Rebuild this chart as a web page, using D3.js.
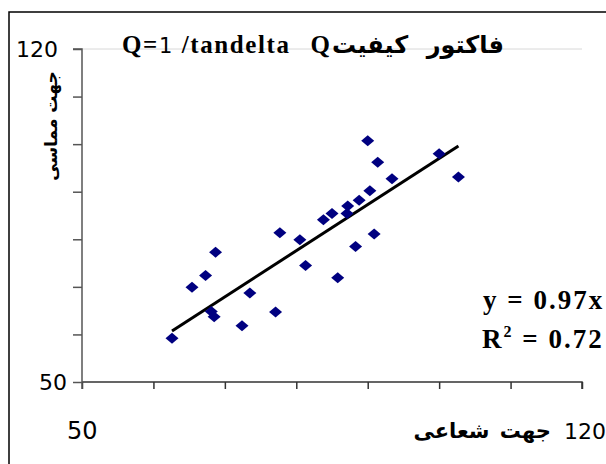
<!DOCTYPE html>
<html>
<head>
<meta charset="utf-8">
<script src="https://cdn.jsdelivr.net/npm/d3@7"></script>
<style>
  body { margin: 0; background: #fff; }
  svg { display: block; }
</style>
</head>
<body>
<div id="chart"></div>
<script>
// radial (x) vs tangential (y) Q factor readings
const radial = [62.6, 65.4, 67.3, 68.7, 68.1, 68.5, 72.4, 73.5, 77.1, 77.7, 80.5, 81.3, 85.8,
  83.8, 85.0, 87.2, 87.1, 88.3, 88.8, 90.3, 90.9, 90.0, 91.4, 93.4, 100.0, 102.7]
const tangential = [59.2, 69.9, 72.4, 77.3, 64.8, 63.7, 61.8, 68.7, 64.7, 81.4, 79.9, 74.5, 71.9,
  84.1, 85.4, 87.0, 85.4, 78.5, 88.2, 90.2, 81.1, 100.7, 96.2, 92.7, 98.0, 93.1]
const xTicks = [50, 60, 70, 80, 90, 100, 110, 120]
const yTicks = [50, 60, 70, 80, 90, 100, 110, 120]
const slope = 0.97
const r2 = '0.72'

const width = 606, height = 464
const svg = d3.select('#chart').append('svg')
  .attr('width', width)
  .attr('height', height)

// outer chart frame
svg.append('rect')
  .attr('x', 9).attr('y', 12)
  .attr('width', 620).attr('height', 480)
  .attr('fill', 'none')
  .attr('stroke', '#000')
  .attr('stroke-width', 1.5)

const x = d3.scaleLinear().domain([50, 120]).range([82, 582])
const y = d3.scaleLinear().domain([50, 120]).range([382, 49])

// top grid line
svg.append('line')
  .attr('x1', x(50)).attr('x2', x(120))
  .attr('y1', y(120)).attr('y2', y(120))
  .attr('stroke', '#d8d8d8')

// axes
const xAxis = svg.append('g')
  .attr('transform', `translate(0,${y(50)})`)
  .call(d3.axisBottom(x).tickValues(xTicks).tickSize(7).tickFormat(''))
xAxis.select('.domain').attr('stroke', '#333').attr('stroke-width', 1.5)
  .attr('d', `M${x(50)},0H${x(120)}V7`)
xAxis.selectAll('.tick line').attr('stroke', '#333').attr('stroke-width', 1.5)

const yAxis = svg.append('g')
  .attr('transform', `translate(${x(50)},0)`)
  .call(d3.axisLeft(y).tickValues(yTicks).tickSize(9).tickFormat(''))
yAxis.select('.domain').attr('stroke', '#555').attr('stroke-width', 1.5)
  .attr('d', `M-9,${y(120)}H0V${y(50) + 7}`)
yAxis.selectAll('.tick line').attr('stroke', '#555').attr('stroke-width', 1.5)

const sans = 'DejaVu Sans, Verdana, sans-serif'
const serif = 'Liberation Serif, Times New Roman, serif'

// y tick labels (only ends)
svg.append('text')
  .attr('x', 58).attr('y', y(120))
  .attr('dy', '0.36em')
  .attr('text-anchor', 'end')
  .attr('font-family', sans).attr('font-size', 22)
  .text('120')
svg.append('text')
  .attr('x', 67).attr('y', y(50))
  .attr('dy', '0.36em')
  .attr('text-anchor', 'end')
  .attr('font-family', sans).attr('font-size', 22)
  .text('50')

// bottom labels
svg.append('text')
  .attr('x', 67).attr('y', 439)
  .attr('font-family', sans).attr('font-size', 24)
  .text('50')
svg.append('text')
  .attr('x', 606).attr('y', 439)
  .attr('text-anchor', 'end')
  .attr('font-family', sans).attr('font-size', 22)
  .text('120')
svg.append('text')
  .attr('x', 551).attr('y', 438)
  .attr('text-anchor', 'end')
  .attr('font-family', sans).attr('font-size', 21).attr('font-weight', 'bold')
  .attr('word-spacing', 3)
  .text('جهت شعاعی')

// y axis title
svg.append('text')
  .attr('transform', 'translate(57,126) rotate(-90)')
  .attr('text-anchor', 'middle')
  .attr('font-family', sans).attr('font-size', 17).attr('font-weight', 'bold')
  .text('جهت مماسی')

// chart title
const title = svg.append('text')
  .attr('x', 122).attr('y', 53)
  .attr('font-family', serif).attr('font-size', 25).attr('font-weight', 'bold')
  .attr('letter-spacing', 1.6)
title.append('tspan').text('Q=')
title.append('tspan').attr('font-family', sans).attr('font-weight', 'normal').attr('font-size', 21).text('1')
title.append('tspan').text(' /tandelta')
svg.append('text')
  .attr('x', 330).attr('y', 53)
  .attr('text-anchor', 'end')
  .attr('font-family', serif).attr('font-size', 25).attr('font-weight', 'bold')
  .text('Q')
svg.append('text')
  .attr('x', 504).attr('y', 53)
  .attr('text-anchor', 'end')
  .attr('font-family', sans).attr('font-size', 24).attr('font-weight', 'bold')
  .attr('word-spacing', 10)
  .text('فاکتور کیفیت')

// trend line through origin
const xMin = d3.min(radial), xMax = d3.max(radial)
svg.append('line')
  .attr('x1', x(xMin)).attr('y1', y(slope * xMin))
  .attr('x2', x(xMax)).attr('y2', y(slope * xMax))
  .attr('stroke', '#000')
  .attr('stroke-width', 3)

// diamond markers
const pts = radial.map((r, i) => [r, tangential[i]])
svg.append('g').selectAll('path')
  .data(pts)
  .join('path')
  .attr('d', d => {
    const cx = x(d[0]), cy = y(d[1])
    return `M${cx},${cy - 5.5}L${cx + 6.5},${cy}L${cx},${cy + 5.5}L${cx - 6.5},${cy}Z`
  })
  .attr('fill', '#000080')

// equation
svg.append('text')
  .attr('x', 483).attr('y', 309)
  .attr('font-family', serif).attr('font-size', 27).attr('font-weight', 'bold')
  .attr('letter-spacing', 2)
  .text(`y = ${slope}x`)
const eq2 = svg.append('text')
  .attr('x', 482).attr('y', 348)
  .attr('font-family', serif).attr('font-size', 27).attr('font-weight', 'bold')
  .attr('letter-spacing', 2)
eq2.append('tspan').text('R')
eq2.append('tspan').attr('dy', -11).attr('font-size', 16).text('2')
eq2.append('tspan').attr('dy', 11).text(` = ${r2}`)
</script>
</body>
</html>
